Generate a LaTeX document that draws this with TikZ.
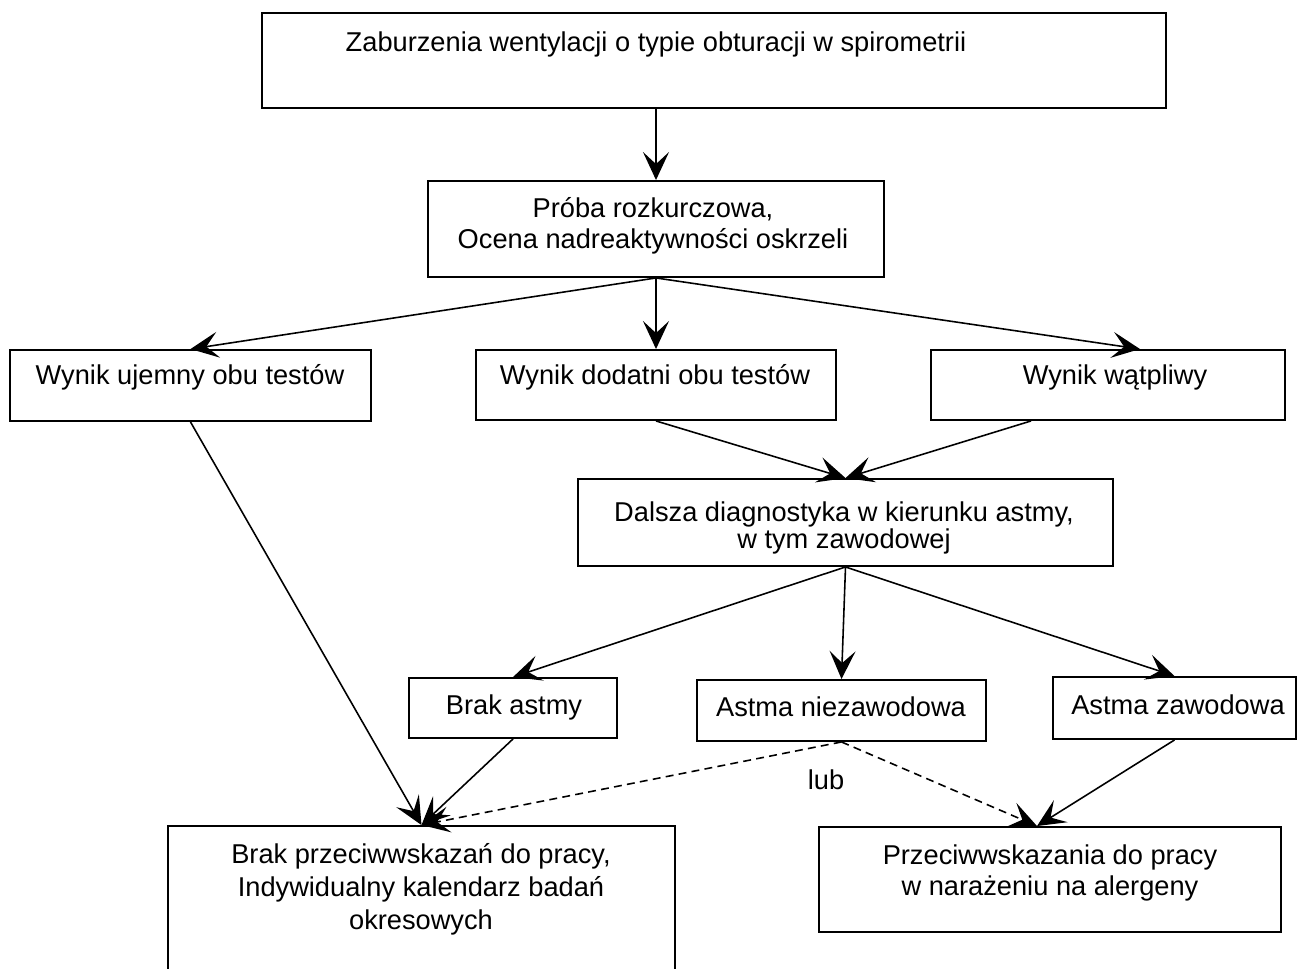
\documentclass[tikz,border=0pt]{standalone}
\usepackage{fontspec}
\setmainfont{Liberation Sans}
\usetikzlibrary{arrows.meta}

\begin{document}
\begin{tikzpicture}[x=0.02cm,y=-0.02cm,
  box/.style={draw,line width=1.1pt,inner sep=0pt},
  txt/.style={align=center,inner sep=0pt,font=\fontsize{15.5}{17.5}\selectfont},
  arr/.style={-{Stealth[length=0.56cm,width=0.52cm,inset=0.24cm]},line width=0.9pt},
  lubarr/.style={arr,dash pattern=on 4.5pt off 3pt}]
\useasboundingbox (0,0) rectangle (1298,969);
\clip (0,0) rectangle (1298,969);

% boxes
\node[box,minimum width=18.08cm,minimum height=1.9cm]  (zab)      at (714,60.5)  {};
\node[box,minimum width=9.12cm,minimum height=1.92cm]  (proba)    at (656,229)   {};
\node[box,minimum width=7.22cm,minimum height=1.42cm]  (ujemny)   at (190.5,385.5) {};
\node[box,minimum width=7.2cm,minimum height=1.4cm]    (dodatni)  at (656,385)   {};
\node[box,minimum width=7.08cm,minimum height=1.4cm]   (watpliwy) at (1108,385)  {};
\node[box,minimum width=10.7cm,minimum height=1.74cm]  (dalsza)   at (845.5,522.5) {};
\node[box,minimum width=4.16cm,minimum height=1.2cm]   (brak)     at (513,708)   {};
\node[box,minimum width=5.78cm,minimum height=1.22cm]  (niezaw)   at (841.5,710.5) {};
\node[box,minimum width=4.86cm,minimum height=1.24cm]  (zaw)      at (1174.5,708) {};
\node[box,minimum width=10.14cm,minimum height=3.28cm] (brakp)    at (421.5,908) {};
\node[box,minimum width=9.24cm,minimum height=2.1cm]   (przec)    at (1050,879.5) {};

% texts
\node[txt] (zabT)      at (656,44)  {Zaburzenia wentylacji o typie obturacji w spirometrii};
\node[txt] (probaT)    at (653,226) {Próba rozkurczowa,\\Ocena nadreaktywności oskrzeli};
\node[txt] (ujemnyT)   at (190,377) {Wynik ujemny obu testów};
\node[txt] (dodatniT)  at (655,377) {Wynik dodatni obu testów};
\node[txt] (watpliwyT) at (1115,377) {Wynik wątpliwy};
\node[txt,font=\fontsize{15.5}{15.5}\selectfont] (dalszaT) at (844,528) {Dalsza diagnostyka w kierunku astmy,\\w tym zawodowej};
\node[txt] (brakT)     at (514,707) {Brak astmy};
\node[txt] (niezawT)   at (841,707) {Astma niezawodowa};
\node[txt] (zawT)      at (1178,705) {Astma zawodowa};
\node[txt,font=\fontsize{15.5}{18.7}\selectfont] (brakpT) at (421,889) {Brak przeciwwskazań do pracy,\\Indywidualny kalendarz badań\\okresowych};
\node[txt] (przecT)    at (1050,873) {Przeciwwskazania do pracy\\w narażeniu na alergeny};
\node[txt] (lubT)      at (826,780) {lub};

% arrows
\path[arr]
    (zab.south -| proba.north) edge (proba.north)
    (proba.south) edge (ujemny.north)
    (proba.south) edge (dodatni.north)
    (proba.south) edge ([xshift=0.64cm]watpliwy.north)
    (dodatni.south) edge (dalsza.north)
    ([xshift=-1.54cm]watpliwy.south) edge (dalsza.north)
    (dalsza.south) edge (brak.north)
    (dalsza.south) edge (niezaw.north)
    (dalsza.south) edge (zaw.north)
    (ujemny.south) edge (brakp.north)
    (brak.south) edge (brakp.north)
    (zaw.south) edge ([xshift=-0.26cm]przec.north);
\path[lubarr]
    (niezaw.south) edge (brakp.north)
    (niezaw.south) edge ([xshift=-0.26cm]przec.north);
\end{tikzpicture}
\end{document}
